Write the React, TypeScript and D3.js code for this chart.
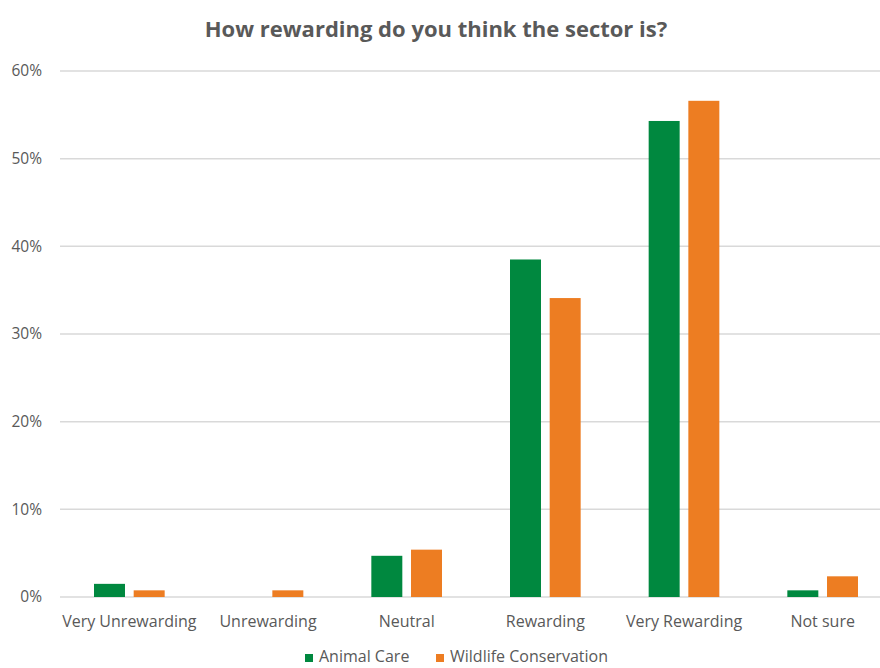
import React from "react";
import * as d3 from "d3";

const categories = [
  "Very Unrewarding",
  "Unrewarding",
  "Neutral",
  "Rewarding",
  "Very Rewarding",
  "Not sure",
];
const seriesNames = ["Animal Care", "Wildlife Conservation"];
const animalCare = [0.015, 0, 0.047, 0.385, 0.543, 0.0076];
const wildlifeConservation = [0.0076, 0.0076, 0.054, 0.341, 0.566, 0.0236];
const yTicks = [0, 0.1, 0.2, 0.3, 0.4, 0.5, 0.6];

const W = 880;
const H = 668;
const colors = ["#00883F", "#ED7D22"];
const textColor = "#595959";
const font = "'Open Sans', sans-serif";

export default function App() {
  const x = d3.scaleBand<string>().domain(categories).range([60, 892]);
  const bw = x.bandwidth();
  const inner = d3
    .scaleBand<string>()
    .domain(seriesNames)
    .range([34, bw - 34])
    .paddingInner(0.219);
  const y = d3.scaleLinear().domain([0, 0.6]).range([597, 71]);
  const fmt = d3.format(".0%");
  const seriesValues = [animalCare, wildlifeConservation];

  return (
    <svg
      width={W}
      height={H}
      style={{ position: "fixed", left: 0, top: 0, background: "#fff" }}
      fontFamily={font}
    >
      <rect width={W} height={H} fill="#fff" />
      <text
        x={436}
        y={37}
        textAnchor="middle"
        fontSize={22}
        fontWeight="bold"
        fill={textColor}
      >
        How rewarding do you think the sector is?
      </text>

      {yTicks.map((t) => (
        <g key={t}>
          <line
            x1={60}
            x2={W}
            y1={y(t)}
            y2={y(t)}
            stroke="#D9D9D9"
            strokeWidth={1.5}
          />
          <text
            x={42}
            y={y(t)}
            dy="0.35em"
            textAnchor="end"
            fontSize={15.5}
            fill={textColor}
          >
            {fmt(t)}
          </text>
        </g>
      ))}

      {seriesValues.map((vals, si) =>
        categories.map((c, ci) => (
          <rect
            key={`${si}-${ci}`}
            x={(x(c) ?? 0) + (inner(seriesNames[si]) ?? 0)}
            y={y(vals[ci])}
            width={inner.bandwidth()}
            height={y(0) - y(vals[ci])}
            fill={colors[si]}
          />
        ))
      )}

      {categories.map((c) => (
        <text
          key={c}
          x={(x(c) ?? 0) + bw / 2}
          y={627}
          textAnchor="middle"
          fontSize={16}
          fill={textColor}
        >
          {c}
        </text>
      ))}

      {seriesNames.map((s, i) => {
        const lx = i === 0 ? 305 : 436;
        return (
          <g key={s}>
            <rect x={lx} y={654} width={8} height={8} fill={colors[i]} />
            <text x={lx + 14} y={662} fontSize={16} fill={textColor}>
              {s}
            </text>
          </g>
        );
      })}
    </svg>
  );
}
